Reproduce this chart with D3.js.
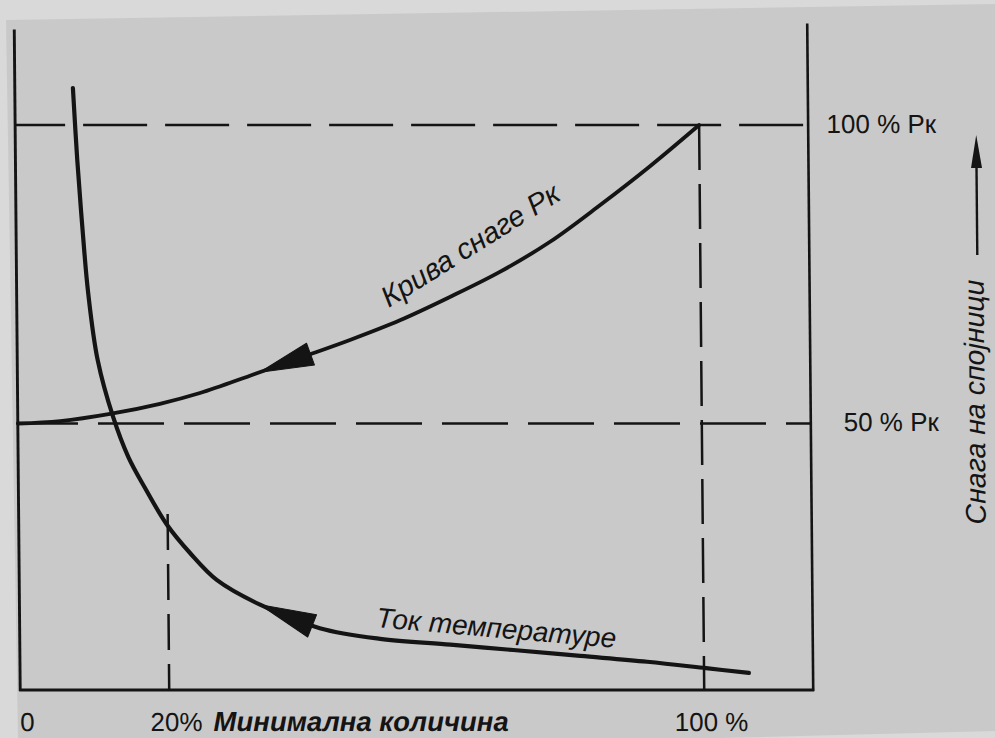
<!DOCTYPE html>
<html><head><meta charset="utf-8">
<script src="https://cdn.jsdelivr.net/npm/d3@7"></script>
<style>html,body{margin:0;padding:0;background:#d9d9d9;} svg{display:block}</style>
</head><body>
<svg id="c" width="995" height="738"></svg>
<script>
// ---- data ----
const powerX = [0, 5.7, 12.4, 19.1, 25.0, 32.5, 40.0, 47.5, 55.0, 62.5, 70.0, 77.5, 85.1, 92.6, 100];
const powerY = [50, 50.4, 51.6, 53.3, 55.1, 58.0, 61.0, 64.0, 67.3, 71.2, 75.4, 80.4, 86.6, 93.1, 100];
const tempX = [7.8, 8.3, 8.9, 9.6, 10.8, 12.8, 14.8, 17.0, 19.9, 23.3, 27.3, 33.7, 42.6, 51.6, 62.1, 71.5, 81.5, 91.5, 100.3, 106.7];
const tempY = [106.2, 94.1, 82.9, 71.9, 60.6, 51.1, 43.7, 37.9, 31.0, 25.7, 20.6, 16.0, 11.6, 9.6, 8.5, 7.5, 6.4, 5.3, 4.1, 3.2];
const xTickValues = [0, 20, 100];
const xTickLabels = ["0", "20%", "100 %"];
const yTickValues = [100, 50];
const yTickLabels = ["100 % Pк", "50 % Pк"];
const xAxisTitle = "Минимална количина";
const yAxisTitle = "Снага на спојници";
const powerLabel = "Крива снаге Pк";
const tempLabel = "Ток температуре";
const frameXMax = 116.3, frameYMaxLeft = 116, frameYMaxRight = 117;
const guide20Top = 33;
const powerArrowAt = 34, tempArrowAt = 33.7;

// ---- layout ----
const ink = "#141414";
const font = "'Liberation Sans', Arial, Helvetica, sans-serif";
const svg = d3.select("#c");

// paper
svg.append("polygon")
  .attr("points", [[6,20],[995,4],[995,731],[720,738],[18,738]].map(p=>p.join(",")).join(" "))
  .attr("fill", "#c9c9c9");

const x = d3.scaleLinear().domain([0, 20, 100]).range([14, 163, 698]);
const y = d3.scaleLinear().domain([0, 50, 100]).range([690, 423.5, 125]);

const g = svg.append("g").attr("transform", "matrix(1,0,0.009,1,0,0)");

function seg(x1, y1, x2, y2, w, dash, off) {
  const l = g.append("line").attr("x1", x1).attr("y1", y1).attr("x2", x2).attr("y2", y2)
    .attr("stroke", ink).attr("stroke-width", w);
  if (dash) l.attr("stroke-dasharray", dash).attr("stroke-dashoffset", off || 0);
  return l;
}

// frame
seg(x(0), y(0) + 1, x(0), y(frameYMaxLeft), 2.9);
seg(x(frameXMax), y(0) + 1, x(frameXMax), y(frameYMaxRight), 2.6);
seg(x(0) - 1, y(0), x(frameXMax) + 1, y(0), 3);

// guide lines
seg(x(0), y(100), x(frameXMax), y(100), 2.6, "64,18", 14);
seg(x(0), y(50), x(frameXMax), y(50), 2.6, "66,20", 5.8);
seg(x(100), y(100), x(100), y(0), 2.5, "45,14", 0);
seg(x(20), y(guide20Top), x(20), y(0), 2.5, "36,14", 0);

// curves
const line = d3.line().x(d => x(d[0])).y(d => y(d[1])).curve(d3.curveCatmullRom.alpha(0.5));
const powerPath = g.append("path").datum(powerX.map((v, i) => [v, powerY[i]]))
  .attr("d", line).attr("fill", "none").attr("stroke", ink).attr("stroke-width", 3.8)
  .attr("stroke-linecap", "round");
const tempPath = g.append("path").datum(tempX.map((v, i) => [v, tempY[i]]))
  .attr("d", line).attr("fill", "none").attr("stroke", ink).attr("stroke-width", 4.2)
  .attr("stroke-linecap", "round");

function arrowOn(path, atX, len, hw) {
  const node = path.node(), total = node.getTotalLength(), tx = x(atX);
  let best = 0, bd = 1e9;
  for (let l = 0; l <= total; l += 0.5) {
    const p = node.getPointAtLength(l);
    const d = Math.abs(p.x - tx);
    if (d < bd) { bd = d; best = l; }
  }
  const tip = node.getPointAtLength(best);
  const base = node.getPointAtLength(Math.min(total, best + len));
  const dx = base.x - tip.x, dy = base.y - tip.y, n = Math.hypot(dx, dy);
  const px = -dy / n * hw, py = dx / n * hw;
  g.append("polygon")
    .attr("points", [[tip.x, tip.y], [base.x + px, base.y + py], [base.x - px, base.y - py]].map(p => p.join(",")).join(" "))
    .attr("fill", ink).attr("stroke", ink).attr("stroke-width", 1).attr("stroke-linejoin", "round");
}
arrowOn(powerPath, powerArrowAt, 54, 11.5);
arrowOn(tempPath, tempArrowAt, 56, 12);

// curve labels
const pStart = [386, 308];
g.append("text").attr("transform", `translate(${pStart[0]},${pStart[1]}) rotate(-32)`)
  .attr("font-family", font).attr("font-style", "italic").attr("font-size", 29)
  .attr("fill", ink).text(powerLabel);
const tStart = [370, 627];
g.append("text").attr("transform", `translate(${tStart[0]},${tStart[1]}) rotate(5)`)
  .attr("font-family", font).attr("font-style", "italic").attr("font-size", 28)
  .attr("fill", ink).text(tempLabel);

// x tick labels
xTickValues.forEach((v, i) => {
  g.append("text").attr("x", x(v) + 7).attr("y", 731).attr("text-anchor", "middle")
    .attr("font-family", font).attr("font-size", 26).attr("fill", ink).text(xTickLabels[i]);
});
g.append("text").attr("x", x(20) + 44).attr("y", 731)
  .attr("font-family", font).attr("font-style", "italic").attr("font-weight", "bold")
  .attr("font-size", 27.5).attr("fill", ink).text(xAxisTitle);

// y tick labels (right side)
yTickValues.forEach((v, i) => {
  g.append("text").attr("x", 935).attr("y", y(v) + 8).attr("text-anchor", "end")
    .attr("font-family", font).attr("font-size", 26).attr("fill", ink).text(yTickLabels[i]);
});

// right axis title with arrow
g.append("text").attr("transform", "translate(981,402) rotate(-90)").attr("text-anchor", "middle")
  .attr("font-family", font).attr("font-style", "italic").attr("font-size", 28.5)
  .attr("fill", ink).text(yAxisTitle);
seg(975, 255, 975, 162, 2.4);
g.append("polygon").attr("points", "975,135 969.5,168 980.5,168").attr("fill", ink);
</script>
</body></html>
